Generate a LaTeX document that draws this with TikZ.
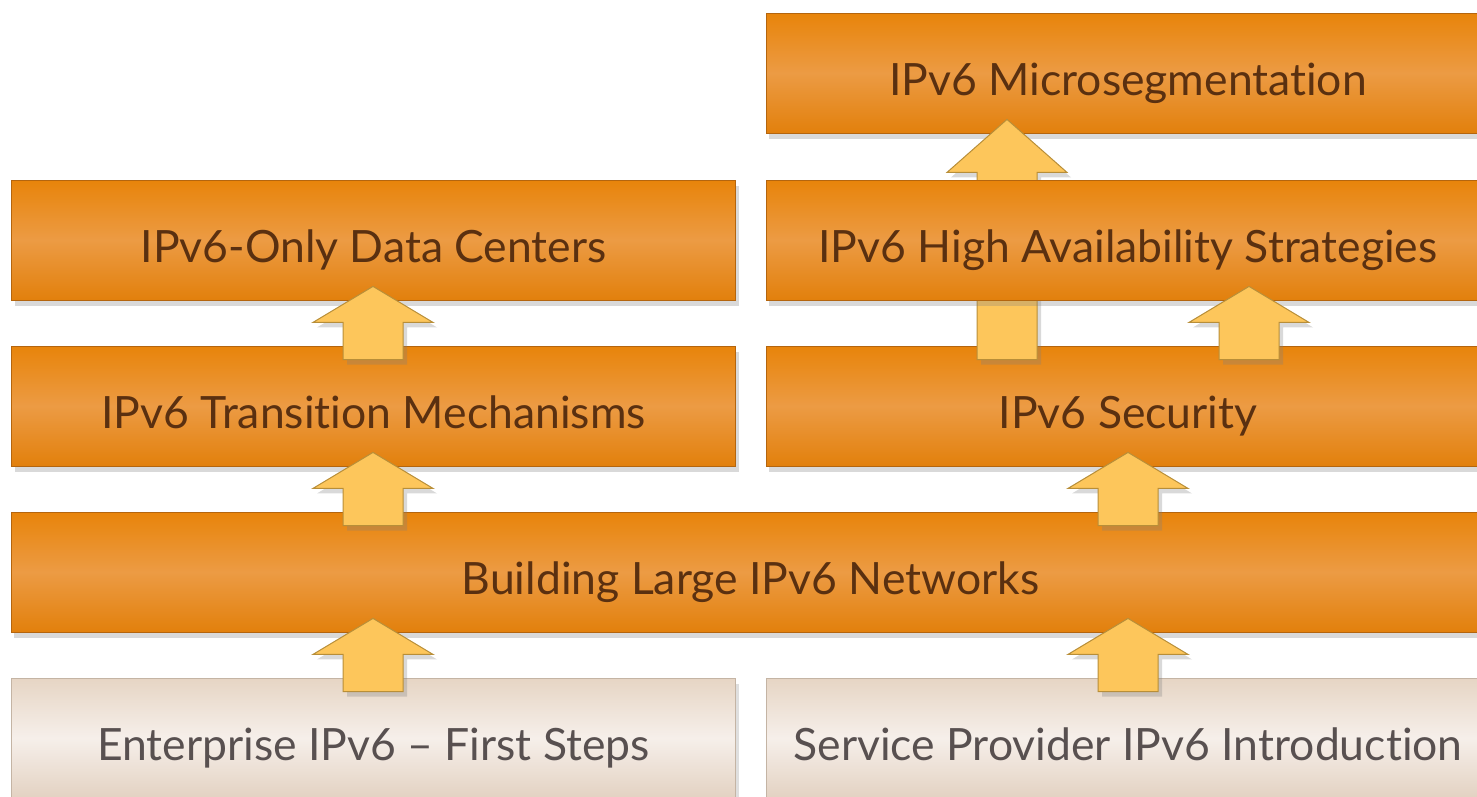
\documentclass[tikz,border=0pt]{standalone}
\usepackage{fontspec}
\setmainfont{Lato}[Ligatures={NoCommon,NoContextual}]
\usetikzlibrary{calc,shadows}
\definecolor{otop}{HTML}{E8840A}
\definecolor{omid}{HTML}{EC9B44}
\definecolor{obot}{HTML}{E2800C}
\definecolor{oborder}{HTML}{B4650E}
\definecolor{otext}{HTML}{5A3010}
\definecolor{btop}{HTML}{E6D5C4}
\definecolor{bmid}{HTML}{F6EFEA}
\definecolor{bbot}{HTML}{E3D2C2}
\definecolor{bborder}{HTML}{C4B4A4}
\definecolor{btext}{HTML}{585050}
\definecolor{afill}{HTML}{FDC65B}
\definecolor{aborder}{HTML}{B88E38}
\tikzset{
  box/.style={rectangle, minimum width=724pt, minimum height=120pt, inner sep=0pt,
    text height=44pt, text depth=0pt,
    font=\fontsize{44.5}{50}\selectfont, line width=0.8pt},
  obox/.style={box, draw=oborder, top color=otop, bottom color=obot, middle color=omid,
    text=otext, drop shadow={shadow xshift=3pt, shadow yshift=-6pt, opacity=0.3}},
  bbox/.style={box, draw=bborder, top color=btop, bottom color=bbot, middle color=bmid,
    text=btext, drop shadow={shadow xshift=3pt, shadow yshift=-6pt, opacity=0.25}},
  blk/.style={fill=afill, draw=aborder, line width=1pt, line join=miter,
    drop shadow={shadow xshift=4pt, shadow yshift=-5pt, opacity=0.3}}
}
% #1 column coordinate, #2 source node, #3 target node, #4 head height
\newcommand\blkarrow[4]{%
  \path[blk] ($(#3.south -| #1)+(0,-14)$) -- ++(60,#4) -- ++(-30,0)
    -- ($(#2.north -| #1)+(30,14)$) -- ++(-60,0)
    -- ($(#3.south -| #1)+(-30,{#4-14})$) -- ++(-30,0) -- cycle;
}
\begin{document}
\begin{tikzpicture}[x=1pt,y=-1pt]
  \useasboundingbox (0,0) rectangle (1477,796);
  \clip (0,0) rectangle (1477,796);
  \coordinate (cL) at (373,0);
  \coordinate (cR) at (1128,0);
  \coordinate (cM) at (1007,0);
  \coordinate (cRR) at (1249,0);

  \node[obox] (micro) at (1128,73) {IPv6 Microsegmentation};
  \node[obox] (dc) at (373.5,240) {IPv6-Only Data Centers};
  \node[obox] (tr) at (373.5,406) {IPv6 Transition Mechanisms};
  \node[obox] (sec) at (1128,406) {IPv6 Security};
  \node[obox, minimum width=1479pt] (bld) at (750.5,572) {Building Large IPv6 Networks};
  \node[bbox] (ent) at (373.5,738) {Enterprise IPv6 -- First Steps};
  \node[bbox] (sp) at (1128,738) {Service Provider IPv6 Introduction};

  \blkarrow{cM}{sec}{micro}{53}
  \node[obox] (ha) at (1128,240) {IPv6 High Availability Strategies};

  \blkarrow{cL}{tr}{dc}{36}
  \blkarrow{cL}{bld}{tr}{36}
  \blkarrow{cL}{ent}{bld}{36}
  \blkarrow{cRR}{sec}{ha}{36}
  \blkarrow{cR}{bld}{sec}{36}
  \blkarrow{cR}{sp}{bld}{36}
\end{tikzpicture}
\end{document}
